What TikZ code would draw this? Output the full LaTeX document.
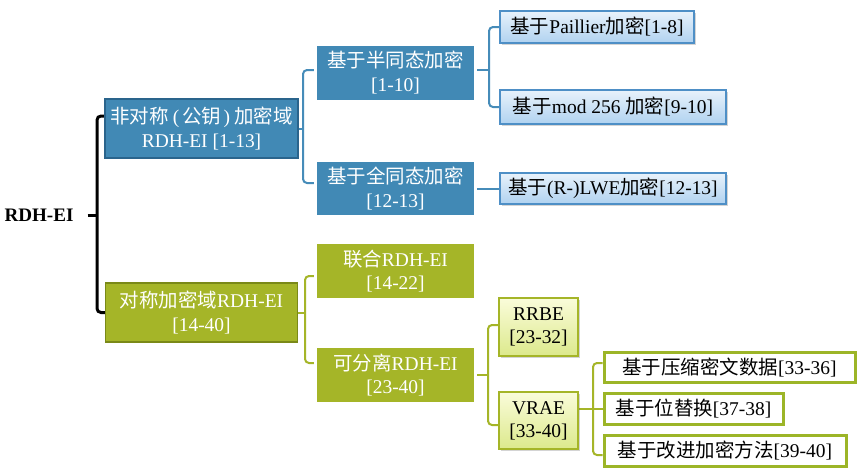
\documentclass[tikz,border=0pt]{standalone}
\usepackage{fontspec}
\setmainfont{Liberation Serif}
\newfontfamily\cjk{Noto Sans CJK SC}
\newcommand\zh[1]{{\cjk #1}}
\usetikzlibrary{calc,shadows}
\pgfdeclarelayer{bottom}
\pgfdeclarelayer{background}
\pgfsetlayers{bottom,background,main}
\definecolor{bluefill}{RGB}{65,137,181}
\definecolor{bluedark}{RGB}{42,100,140}
\definecolor{blueline}{RGB}{70,140,185}
\definecolor{leaftop}{RGB}{232,242,251}
\definecolor{leafbot}{RGB}{176,210,240}
\definecolor{leafborder}{RGB}{78,143,198}
\definecolor{greenfill}{RGB}{165,181,40}
\definecolor{greendark}{RGB}{122,137,24}
\definecolor{greenline}{RGB}{165,181,40}
\definecolor{ltgtop}{RGB}{250,252,218}
\definecolor{ltgbot}{RGB}{220,233,140}
\definecolor{gborder}{RGB}{156,181,40}
\begin{document}
\begin{tikzpicture}[x=0.75pt,y=-0.75pt,
  every node/.style={inner sep=0pt, align=center, font=\fontsize{14.6pt}{17.3pt}\selectfont},
  size/.style 2 args={minimum width=#1*0.75pt, minimum height=#2*0.75pt},
  shad/.style={drop shadow={shadow xshift=1.2pt, shadow yshift=-1.2pt, opacity=0.28, fill=black!60}},
  lvlonebl/.style={rectangle, fill=bluefill, draw=bluedark, line width=1.1pt, text=white},
  lvltwobl/.style={rectangle, fill=bluefill, draw=white, line width=2.25pt, text=white, shad},
  leafbl/.style={rectangle, top color=leaftop, bottom color=leafbot, draw=leafborder, line width=1.1pt, text=black, shad},
  lvlonegr/.style={rectangle, fill=greenfill, draw=greendark, line width=1.1pt, text=white},
  lvltwogr/.style={rectangle, fill=greenfill, draw=white, line width=2.25pt, text=white, shad},
  ltgr/.style={rectangle, top color=ltgtop, bottom color=ltgbot, draw=greenfill, line width=1.1pt, text=black, shad},
  leafgr/.style={rectangle, fill=white, draw=gborder, line width=2.25pt, text=black, shad},
  blk/.style={draw=black, line width=2.25pt, rounded corners=3pt},
  bl/.style={draw=blueline, line width=1.5pt, rounded corners=3pt},
  gl/.style={draw=greenline, line width=1.5pt, rounded corners=3pt}]
\begin{pgfonlayer}{bottom}
\fill[white] (0,0) rectangle (866,475);
\end{pgfonlayer}
\useasboundingbox (0,0) rectangle (866,475);

% root
\node[font=\fontsize{14.3pt}{17pt}\selectfont\bfseries] (root) at (39,215) {RDH-EI};

% level 1
\node[lvlonebl, size={193}{59}] (b1) at (201.5,128.5) {\zh{非对称}\hspace{3pt}(\hspace{2pt}\zh{公钥}\hspace{2pt})\hspace{3pt}\zh{加密域}\\RDH-EI [1-13]};
\node[lvlonegr, size={192}{59}] (b2) at (201.5,312.5) {\zh{对称加密域}RDH-EI\\{[14-40]}};

% level 2
\node[lvltwobl, size={160}{57}] (a1) at (395.5,72.5) {\zh{基于半同态加密}\\{[1-10]}};
\node[lvltwobl, size={160}{56}] (a2) at (395.5,188.5) {\zh{基于全同态加密}\\{[12-13]}};
\node[lvltwogr, size={160}{57}] (s1) at (395.5,271) {\zh{联合}RDH-EI\\{[14-22]}};
\node[lvltwogr, size={160}{57}] (s2) at (395.5,375) {\zh{可分离}RDH-EI\\{[23-40]}};

% level 3
\node[leafbl, size={194}{32}] (p1) at (597,27) {\zh{基于}Paillier\zh{加密}[1-8]};
\node[leafbl, size={226}{34}] (p2) at (613,107) {\zh{基于}mod 256 \zh{加密}[9-10]};
\node[leafbl, size={226}{31}] (p3) at (613,188.5) {\zh{基于}(R-)LWE\zh{加密}[12-13]};
\node[ltgr, size={79}{58}] (r1) at (538.5,327) {RRBE\\{[23-32]}};
\node[ltgr, size={79}{57}] (r2) at (538.5,420.5) {VRAE\\{[33-40]}};

% level 4
\node[leafgr, size={251}{30}] (g1) at (729.5,367.5) {\zh{基于压缩密文数据}[33-36]};
\node[leafgr, size={179}{31}] (g2) at (693.5,408.5) {\zh{基于位替换}[37-38]};
\node[leafgr, size={242}{31}] (g3) at (725,450.5) {\zh{基于改进加密方法}[39-40]};

% connectors
\coordinate (rj) at (97,215);
\coordinate (bj) at (303,128.5);
\coordinate (aj) at (489,70);
\coordinate (gj) at (305,312.5);
\coordinate (sj) at (488,375);
\coordinate (vj) at (593,408.5);
\begin{pgfonlayer}{background}
\draw[blk] ($(root.east)+(14,0)$) -- (rj);
\draw[blk] (b1.west |- 0,116) -| (rj) |- (b2.west);
\draw[bl] (b1.east) -- (bj);
\draw[bl] (a1.west |- 0,70) -| (bj) |- (a2.west |- 0,183);
\draw[bl] (a1.east |- aj) -- (aj);
\draw[bl] (p1.west) -| (aj) |- (p2.west);
\draw[bl] (a2.east) -- (p3.west);
\draw[gl] (b2.east) -- (gj);
\draw[gl] (s1.west |- 0,276) -| (gj) |- (s2.west |- 0,363);
\draw[gl] (s2.east) -- (sj);
\draw[gl] (r1.west |- 0,325) -| (sj) |- (r2.west |- 0,425);
\draw[gl] (r2.east |- vj) -- (g2.west);
\draw[gl] (g1.west |- 0,363) -| (vj) |- (g3.west |- 0,455);
\end{pgfonlayer}
\end{tikzpicture}
\end{document}
